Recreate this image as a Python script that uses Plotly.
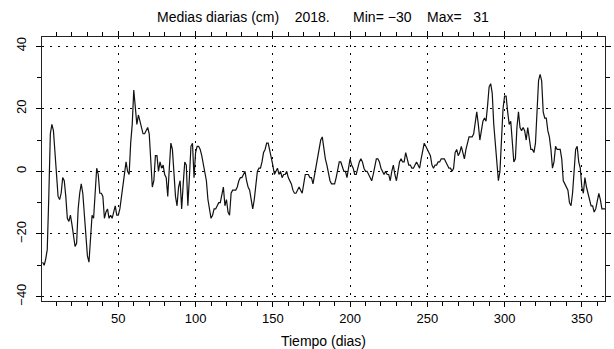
import plotly.graph_objects as go

# Medias diarias del nivel (cm), 2018, por meses
nivel_ene = [-29, -30, -28, -25, -8, 12, 15, 13, 6, 0,
             -8, -9, -7, -2, -3, -8, -15, -16, -14, -17,
             -21, -24, -23, -12, -7, -4, -7, -13, -20, -27, -29]
nivel_feb = [-22, -14, -15, -8, 1, -1, -7, -7, -8, -15,
             -13, -12, -15, -14, -15, -13, -11, -14, -14, -12,
             -8, -4, -1, 3, 0, -1, 9, 15]
nivel_mar = [26, 20, 15, 18, 16, 14, 12, 12, 13, 14,
             12, 4, -5, -3, 5, 5, 0, 3, 1, 2,
             -1, -2, -8, 1, 9, 7, 0, -8, -11, -5, -3]
nivel_abr = [-12, -4, 3, 2, -11, -2, 8, 9, -2, 6,
             8, 8, 7, 5, 2, 0, -3, -9, -12, -15,
             -14, -12, -12, -11, -10, -10, -7, -5, -11, -9]
nivel_may = [-13, -14, -7, -6, -6, -6, -5, -3, -2, -2,
             -1, 0, -3, -5, -6, -9, -12, -9, -5, 0,
             1, 1, 3, 6, 7, 9, 9, 7, 5, 2, -1]
nivel_jun = [0, 1, -1, 0, -2, -1, -1, 0, -2, -3,
             -4, -6, -7, -7, -6, -5, -6, -7, -4, -1,
             -1, -1, -2, -2, -4, -1, 1, 4, 7, 10]
nivel_jul = [11, 7, 4, 2, -1, -3, -4, -4, -4, -2,
             1, 3, 3, 1, 0, 0, -2, 1, 4, 2,
             1, -1, -1, 1, 3, 4, 3, 1, 0, 0, -1]
nivel_ago = [-2, -3, -1, 2, 4, 4, 3, 1, 0, -1,
             0, -1, -1, -3, 0, 2, -1, -3, 0, 3,
             4, 3, 3, 6, 4, 2, 2, 1, 1, 2, 3]
nivel_sep = [2, 1, 4, 7, 9, 8, 7, 6, 5, 2,
             1, 2, 2, 3, 3, 4, 4, 4, 3, 2,
             1, 1, 0, 1, 6, 7, 5, 6, 8, 6]
nivel_oct = [4, 7, 9, 11, 11, 11, 12, 16, 19, 15,
             10, 13, 16, 17, 16, 21, 27, 28, 25, 15,
             8, 1, -3, 0, 9, 20, 24, 24, 19, 15, 16]
nivel_nov = [10, 3, 4, 14, 19, 14, 13, 14, 13, 10,
             14, 11, 7, 7, 6, 9, 19, 29, 31, 29,
             19, 17, 17, 13, 11, 7, 1, 3, 8, 7]
nivel_dic = [7, 7, 4, -3, -4, -5, -6, -10, -11, -7,
             1, 7, 8, 3, 1, -5, -7, -2, -5, -7,
             -9, -11, -11, -13, -12, -9, -7, -9, -12, -12, -12]

x_ticks = [50, 100, 150, 200, 250, 300, 350]
y_ticks = [-40, -20, 0, 20, 40]

nivel = (nivel_ene + nivel_feb + nivel_mar + nivel_abr + nivel_may + nivel_jun
         + nivel_jul + nivel_ago + nivel_sep + nivel_oct + nivel_nov + nivel_dic)
dias = list(range(1, len(nivel) + 1))

FONT = "Liberation Sans"
NB = "\u00a0"
titulo = (f"Medias diarias (cm){NB*4}2018.{NB*6}Min={NB}\u2212{abs(min(nivel))}"
          f"{NB*4}Max={NB*3}{max(nivel)}")

fig = go.Figure()
fig.add_trace(go.Scatter(
    x=dias, y=nivel, mode="lines",
    line=dict(color="#111111", width=1.2),
    showlegend=False, hoverinfo="skip",
))

eje = dict(
    showline=True, linecolor="#222222", linewidth=1, mirror="allticks",
    ticks="outside", ticklen=5, tickwidth=1, tickcolor="black",
    showgrid=True, gridcolor="black", gridwidth=1, griddash="2px,6px",
    zeroline=False, automargin=False,
    tickfont=dict(family=FONT, size=13, color="black"),
    minor=dict(ticks="outside", ticklen=4, tickwidth=1, tickcolor="black",
               dtick=10, showgrid=False),
)

fig.update_layout(
    width=614, height=349,
    margin=dict(l=42, r=9, t=37, b=48),
    paper_bgcolor="white", plot_bgcolor="white",
    title=dict(text=titulo, x=0.526, xanchor="center", y=0.95, yanchor="middle",
               font=dict(family=FONT, size=14, color="black")),
    xaxis=dict(eje, range=[0.6, 365], tickvals=x_ticks,
               title=dict(text="Tiempo (dias)", standoff=12,
                          font=dict(family=FONT, size=14, color="black")),
               minor=dict(eje["minor"], tick0=0)),
    yaxis=dict(eje, range=[-41.4, 42.9], tickvals=y_ticks, tickangle=-90,
               ticklabelstandoff=5,
               minor=dict(eje["minor"], tick0=0)),
)

fig.write_html("out.html")
